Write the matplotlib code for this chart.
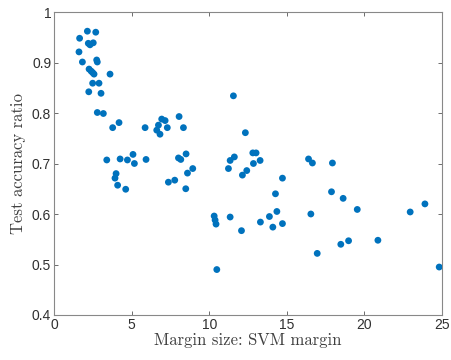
import matplotlib
matplotlib.use("Agg")
import matplotlib.pyplot as plt

margin = [2.15, 2.69, 1.65, 2.21, 2.32, 2.53, 1.61, 2.75, 2.79, 1.83,
          2.26, 2.39, 2.49, 2.58, 3.61, 2.49, 2.90, 2.24, 3.03, 2.79,
          3.18, 3.78, 4.19, 5.87, 6.94, 7.16, 6.73, 6.62, 6.83, 7.30,
          8.06, 8.34, 3.40, 4.26, 4.73, 5.09, 5.18, 5.93, 8.02, 8.17,
          8.51, 4.00, 3.93, 4.10, 4.62, 7.37, 7.78, 8.94, 8.60, 8.49,
          11.56, 12.33, 11.35, 11.62, 11.24, 12.81, 13.02, 12.85, 13.28, 12.14,
          12.42, 14.72, 14.27, 14.36, 13.88, 13.30, 14.10, 14.72, 10.32, 10.38,
          10.44, 11.35, 12.08, 10.49, 16.40, 16.65, 17.94, 17.88, 18.63, 16.55,
          18.48, 18.98, 16.96, 19.54, 22.95, 23.90, 20.87, 24.82]
accuracy = [0.962, 0.960, 0.948, 0.938, 0.935, 0.939, 0.921, 0.905, 0.901, 0.901,
            0.887, 0.883, 0.880, 0.877, 0.877, 0.859, 0.859, 0.842, 0.839, 0.801,
            0.799, 0.771, 0.781, 0.771, 0.788, 0.785, 0.776, 0.766, 0.758, 0.771,
            0.793, 0.771, 0.707, 0.709, 0.707, 0.718, 0.700, 0.708, 0.711, 0.708,
            0.719, 0.680, 0.671, 0.657, 0.649, 0.663, 0.667, 0.690, 0.681, 0.650,
            0.834, 0.761, 0.706, 0.713, 0.690, 0.721, 0.721, 0.700, 0.706, 0.677,
            0.686, 0.671, 0.640, 0.605, 0.595, 0.584, 0.574, 0.581, 0.596, 0.588,
            0.580, 0.594, 0.567, 0.490, 0.709, 0.701, 0.701, 0.644, 0.631, 0.600,
            0.540, 0.547, 0.522, 0.609, 0.604, 0.620, 0.548, 0.495]

xticks = [0, 5, 10, 15, 20, 25]
yticks = [0.4, 0.5, 0.6, 0.7, 0.8, 0.9, 1.0]
yticklabels = ["0.4", "0.5", "0.6", "0.7", "0.8", "0.9", "1"]

fig = plt.figure(figsize=(4.51, 3.6), dpi=100)
ax = fig.add_axes([54/451, 1-315/360, 388/451, 303/360])
ax.scatter(margin, accuracy, s=24, color='#0072BD', edgecolors='none', zorder=3)
ax.set_xlim(0, 25)
ax.set_ylim(0.4, 1.0)
ax.set_xticks(xticks)
ax.set_xticklabels([str(t) for t in xticks])
ax.set_yticks(yticks)
ax.set_yticklabels(yticklabels)
for sp in ax.spines.values():
    sp.set_color('#888888')
    sp.set_linewidth(0.8)
ax.tick_params(direction='in', length=3, width=0.6, color='#555555',
               labelsize=10, labelcolor='#303030', top=True, right=True,
               labeltop=False, labelright=False, pad=2)
for lab in ax.get_xticklabels() + ax.get_yticklabels():
    lab.set_family('Liberation Sans')
ax.set_xlabel('Margin size: SVM margin', fontsize=12, color='#404040',
              family='cmr10', labelpad=1)
ax.set_ylabel('Test accuracy ratio', fontsize=12, color='#404040',
              family='cmr10', labelpad=4)
fig.savefig('out.png', dpi=100)
